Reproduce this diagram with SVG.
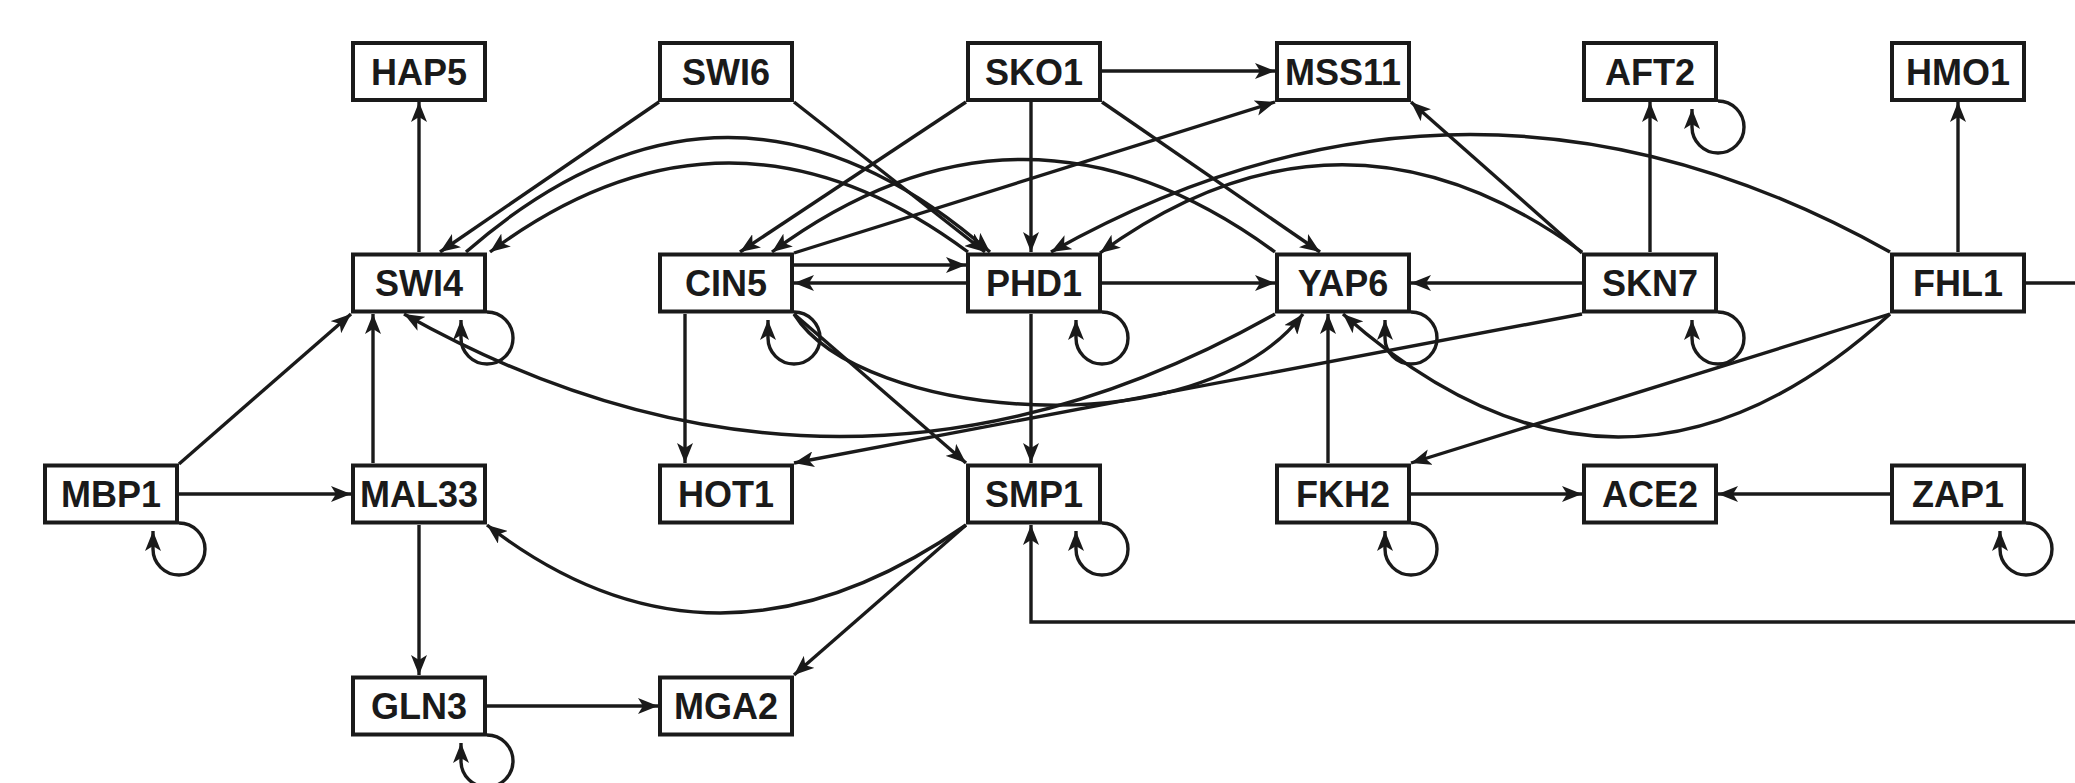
<svg xmlns="http://www.w3.org/2000/svg" width="2075" height="783" viewBox="0 0 2075 783">
<defs>
<style>
.n rect{fill:#fff;stroke:#1a1a1a;stroke-width:4}
.n text{font-family:"Liberation Sans",Arial,sans-serif;font-weight:bold;font-size:36px;fill:#1a1a1a;text-anchor:middle}
#edges path{fill:none;stroke:#1a1a1a;stroke-width:3.4;marker-end:url(#ah)}
</style>
<marker id="ah" markerUnits="userSpaceOnUse" markerWidth="22" markerHeight="16" refX="20" refY="8" orient="auto"><path d="M0,0 L20,8 L0,16 L5,8 Z" fill="#1a1a1a"/></marker>
</defs>
<rect width="2075" height="783" fill="#fff"/>
<g id="edges">
<path d="M419,252 V102"/>
<path d="M659,102 L440,252"/>
<path d="M794,102 L985,252"/>
<path d="M966,102 L740,252"/>
<path d="M1031,102 V252"/>
<path d="M1102,102 L1320,252"/>
<path d="M1102,71 H1275"/>
<path d="M794,253 L1275,102"/>
<path d="M1582,253 L1411,102"/>
<path d="M1650,252 V102"/>
<path d="M1958,252 V102"/>
<path d="M794,265 H966"/>
<path d="M966,283 H794"/>
<path d="M1102,283 H1275"/>
<path d="M1582,283 H1411"/>
<path d="M2026,283 H2090 V622 H1031 V525"/>
<path d="M179,464 L351,314"/>
<path d="M179,494 H351"/>
<path d="M373,463 V314"/>
<path d="M419,525 V675"/>
<path d="M487,706 H658"/>
<path d="M685,314 V463"/>
<path d="M794,314 L966,463"/>
<path d="M1031,314 V463"/>
<path d="M1582,314 L794,463"/>
<path d="M1328,463 V314"/>
<path d="M1890,314 L1411,463"/>
<path d="M1411,494 H1582"/>
<path d="M1890,494 H1718"/>
<path d="M966,525 L794,675"/>
<path d="M466,252 Q728,23 990,252"/>
<path d="M968,252 Q729,74 490,252"/>
<path d="M1275,252 Q1023,67 772,252"/>
<path d="M1582,252 Q1342,77 1100,253"/>
<path d="M1890,252 Q1470,17 1051,252"/>
<path d="M1275,314 Q840,559 404,314"/>
<path d="M794,314 C860,420 1200,450 1303,314"/>
<path d="M1890,314 Q1620,560 1343,314"/>
<path d="M966,525 Q714,701 487,525"/>
<path d="M179,523 A26,26 0 1 1 153,549 L153,531"/>
<path d="M487,312 A26,26 0 1 1 461,338 L461,320"/>
<path d="M794,312 A26,26 0 1 1 768,338 L768,320"/>
<path d="M1102,312 A26,26 0 1 1 1076,338 L1076,320"/>
<path d="M1411,312 A26,26 0 1 1 1385,338 L1385,320"/>
<path d="M1718,312 A26,26 0 1 1 1692,338 L1692,320"/>
<path d="M1718,101 A26,26 0 1 1 1692,127 L1692,109"/>
<path d="M1102,523 A26,26 0 1 1 1076,549 L1076,531"/>
<path d="M1411,523 A26,26 0 1 1 1385,549 L1385,531"/>
<path d="M2026,523 A26,26 0 1 1 2000,549 L2000,531"/>
<path d="M487,735 A26,26 0 1 1 461,761 L461,743"/>
</g>
<g id="HAP5" class="n"><rect x="353" y="43" width="132" height="57"/><text x="419" y="85">HAP5</text></g>
<g id="SWI6" class="n"><rect x="660" y="43" width="132" height="57"/><text x="726" y="85">SWI6</text></g>
<g id="SKO1" class="n"><rect x="968" y="43" width="132" height="57"/><text x="1034" y="85">SKO1</text></g>
<g id="MSS11" class="n"><rect x="1277" y="43" width="132" height="57"/><text x="1343" y="85">MSS11</text></g>
<g id="AFT2" class="n"><rect x="1584" y="43" width="132" height="57"/><text x="1650" y="85">AFT2</text></g>
<g id="HMO1" class="n"><rect x="1892" y="43" width="132" height="57"/><text x="1958" y="85">HMO1</text></g>
<g id="SWI4" class="n"><rect x="353" y="254.5" width="132" height="57"/><text x="419" y="296">SWI4</text></g>
<g id="CIN5" class="n"><rect x="660" y="254.5" width="132" height="57"/><text x="726" y="296">CIN5</text></g>
<g id="PHD1" class="n"><rect x="968" y="254.5" width="132" height="57"/><text x="1034" y="296">PHD1</text></g>
<g id="YAP6" class="n"><rect x="1277" y="254.5" width="132" height="57"/><text x="1343" y="296">YAP6</text></g>
<g id="SKN7" class="n"><rect x="1584" y="254.5" width="132" height="57"/><text x="1650" y="296">SKN7</text></g>
<g id="FHL1" class="n"><rect x="1892" y="254.5" width="132" height="57"/><text x="1958" y="296">FHL1</text></g>
<g id="MBP1" class="n"><rect x="45" y="465.5" width="132" height="57"/><text x="111" y="507">MBP1</text></g>
<g id="MAL33" class="n"><rect x="353" y="465.5" width="132" height="57"/><text x="419" y="507">MAL33</text></g>
<g id="HOT1" class="n"><rect x="660" y="465.5" width="132" height="57"/><text x="726" y="507">HOT1</text></g>
<g id="SMP1" class="n"><rect x="968" y="465.5" width="132" height="57"/><text x="1034" y="507">SMP1</text></g>
<g id="FKH2" class="n"><rect x="1277" y="465.5" width="132" height="57"/><text x="1343" y="507">FKH2</text></g>
<g id="ACE2" class="n"><rect x="1584" y="465.5" width="132" height="57"/><text x="1650" y="507">ACE2</text></g>
<g id="ZAP1" class="n"><rect x="1892" y="465.5" width="132" height="57"/><text x="1958" y="507">ZAP1</text></g>
<g id="GLN3" class="n"><rect x="353" y="677.5" width="132" height="57"/><text x="419" y="719">GLN3</text></g>
<g id="MGA2" class="n"><rect x="660" y="677.5" width="132" height="57"/><text x="726" y="719">MGA2</text></g>
</svg>
